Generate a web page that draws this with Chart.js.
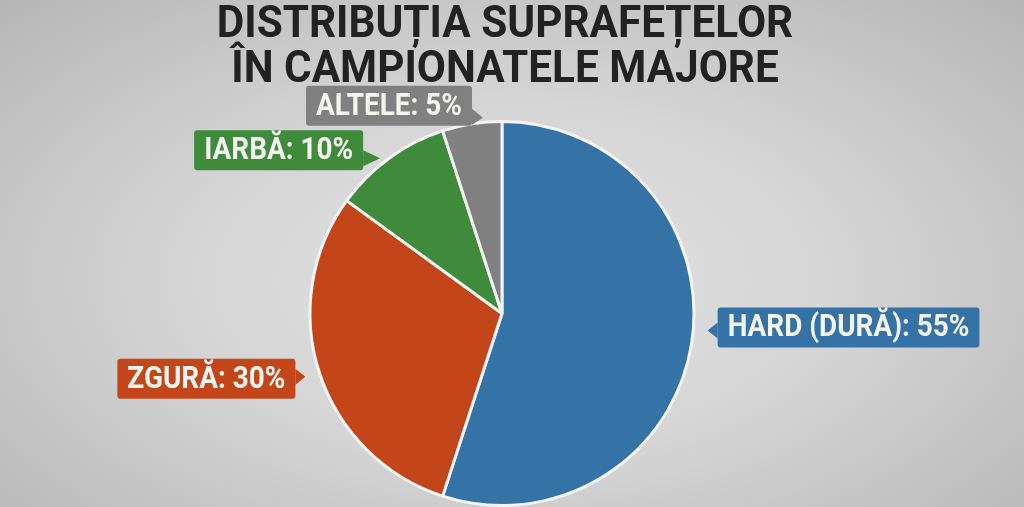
<!DOCTYPE html>
<html>
<head>
<meta charset="utf-8">
<style>
html, body { margin: 0; padding: 0; }
body {
    width: 1024px; height: 507px; overflow: hidden;
    background: radial-gradient(ellipse at 50% 55%, #e3e3e3 0%, #d5d5d5 45%, #b6b6b6 100%);
}
</style>
<script src="https://cdn.jsdelivr.net/npm/chart.js"></script>
</head>
<body>
<canvas id="surfaceChart" width="1024" height="507"></canvas>

<script>
// chart data
const titleLines = ['DISTRIBUȚIA SUPRAFEȚELOR', 'ÎN CAMPIONATELE MAJORE'];
const surfaces = ['HARD (DURĂ)', 'ZGURĂ', 'IARBĂ', 'ALTELE'];
const shares = [55, 30, 10, 5];
const sliceColors = ['#3572a6', '#c3461a', '#3f8a3b', '#808080'];

// where each callout sits relative to the edge of its slice
const callouts = [
    { tx: 16, ty: -13, side: 'right', gap: 10, dy: -3 },
    { tx: -14, ty: 4, side: 'left', gap: 10, dy: 2 },
    { tx: -9, ty: 0, side: 'left', gap: 17, dy: -8 },
    { tx: 11, ty: -6, side: 'left', gap: 11, dy: -12 }
];

const textScale = 0.9;

function roundBox(ctx, x, y, w, h, r) {
    ctx.beginPath();
    ctx.moveTo(x + r, y);
    ctx.lineTo(x + w - r, y);
    ctx.quadraticCurveTo(x + w, y, x + w, y + r);
    ctx.lineTo(x + w, y + h - r);
    ctx.quadraticCurveTo(x + w, y + h, x + w - r, y + h);
    ctx.lineTo(x + r, y + h);
    ctx.quadraticCurveTo(x, y + h, x, y + h - r);
    ctx.lineTo(x, y + r);
    ctx.quadraticCurveTo(x, y, x + r, y);
    ctx.closePath();
}

const titlePlugin = {
    id: 'bigTitle',
    afterDraw(chart) {
        const ctx = chart.ctx;
        ctx.save();
        ctx.fillStyle = '#222222';
        ctx.font = 'bold 45px Roboto';
        ctx.textAlign = 'center';
        ctx.textBaseline = 'alphabetic';
        const baselines = [37, 82];
        titleLines.forEach((line, i) => {
            ctx.save();
            ctx.translate(505, baselines[i]);
            ctx.scale(0.94, 1);
            ctx.fillText(line, 0, 0);
            ctx.restore();
        });
        ctx.restore();
    }
};

const calloutPlugin = {
    id: 'callouts',
    afterDatasetsDraw(chart) {
        const ctx = chart.ctx;
        const meta = chart.getDatasetMeta(0);
        meta.data.forEach((arc, i) => {
            const p = arc.getProps(['x', 'y', 'startAngle', 'endAngle', 'outerRadius'], true);
            const mid = (p.startAngle + p.endAngle) / 2;
            const c = callouts[i];
            const tipX = p.x + Math.cos(mid) * p.outerRadius + c.tx;
            const tipY = p.y + Math.sin(mid) * p.outerRadius + c.ty;
            const text = surfaces[i] + ': ' + shares[i] + '%';

            ctx.save();
            ctx.font = 'bold 31px Roboto';
            const tw = ctx.measureText(text).width * textScale;
            const bw = tw + 20, bh = 40;
            const bx = c.side === 'right' ? tipX + c.gap : tipX - c.gap - bw;
            const by = tipY + c.dy - bh / 2;
            const edge = c.side === 'right' ? bx : bx + bw;
            const baseY = Math.min(Math.max(tipY, by + 9), by + bh - 9);

            ctx.fillStyle = sliceColors[i];
            roundBox(ctx, bx, by, bw, bh, 3);
            ctx.fill();
            ctx.beginPath();
            ctx.moveTo(edge, baseY - 8);
            ctx.lineTo(tipX, tipY);
            ctx.lineTo(edge, baseY + 8);
            ctx.closePath();
            ctx.fill();

            ctx.fillStyle = '#f4f4f0';
            ctx.textAlign = 'center';
            ctx.textBaseline = 'middle';
            ctx.translate(bx + bw / 2, by + bh / 2 + 1);
            ctx.scale(textScale, 1);
            ctx.fillText(text, 0, 0);
            ctx.restore();
        });
    }
};

new Chart(document.getElementById('surfaceChart'), {
    type: 'pie',
    data: {
        labels: surfaces,
        datasets: [{
            data: shares,
            backgroundColor: sliceColors,
            borderColor: '#f4f4f4',
            borderWidth: 3
        }]
    },
    options: {
        responsive: false,
        animation: false,
        layout: { padding: { top: 120, bottom: 0, left: 0, right: 20 } },
        plugins: {
            legend: { display: false },
            tooltip: { enabled: false },
            title: { display: false }
        }
    },
    plugins: [calloutPlugin, titlePlugin]
});
</script>
</body>
</html>
